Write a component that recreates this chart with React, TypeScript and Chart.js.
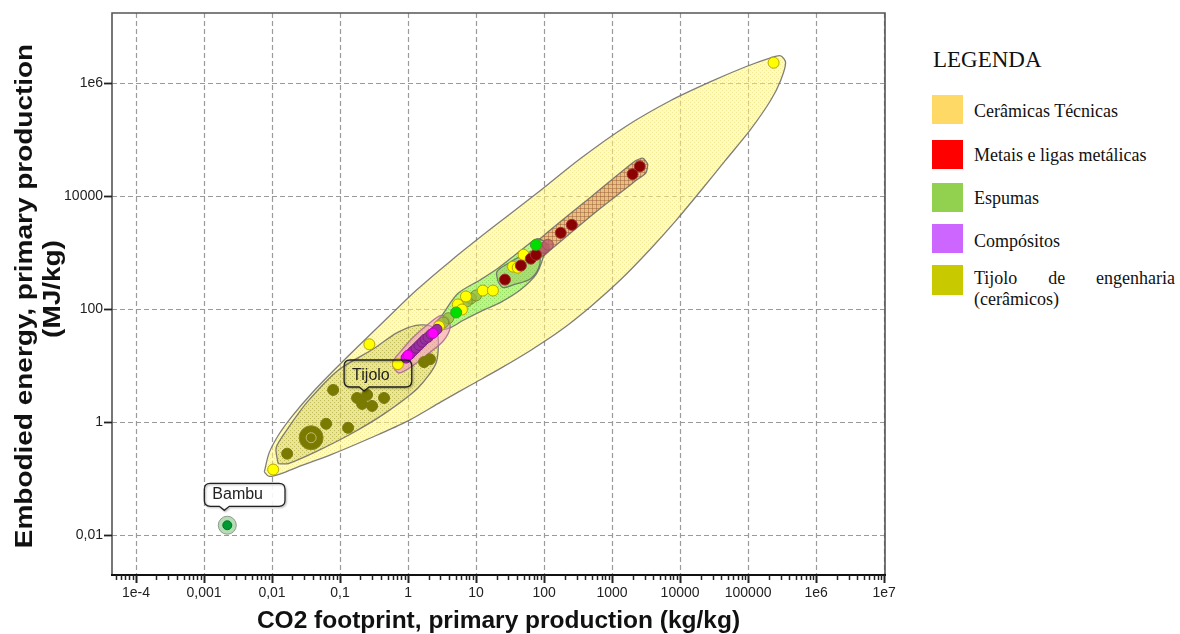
import React, { useEffect, useRef } from 'react';
import { Chart, registerables } from 'chart.js';

Chart.register(...registerables);

// ---------- axes ----------
const xTickValues = [1e-4, 1e-3, 1e-2, 1e-1, 1, 10, 100, 1000, 1e4, 1e5, 1e6, 1e7];
const xTickLabels = ['1e-4', '0,001', '0,01', '0,1', '1', '10', '100', '1000', '10000', '100000', '1e6', '1e7'];
const yTickValues = [0.01, 1, 100, 1e4, 1e6];
const yTickLabels = ['0,01', '1', '100', '10000', '1e6'];
const xMin = 4.44e-5;
const xMax = 1.03e7;
const yMin = 1.95e-3;
const yMax = 1.706e7;
const xTitle = 'CO2 footprint, primary production (kg/kg)';
const yTitle = ['Embodied energy, primary production', '(MJ/kg)'];

// ---------- envelopes (x = kg/kg, y = MJ/kg) ----------
const hullCeramicas: [number, number][] = [
  [0.0077, 0.13], [0.0091, 0.285], [0.0128, 0.615], [0.0205, 1.33], [0.0376, 3.11], [0.0792, 7.9],
  [0.185, 21.7], [0.475, 65], [1.31, 210], [4.28, 709], [16.5, 2590], [75.8, 10700], [347, 46000],
  [1590, 1.68e5], [7280, 4.83e5], [2.81e4, 1.04e6], [9.2e4, 1.91e6], [2.14e5, 2.75e6], [3.0e5, 2.99e6],
  [3.56e5, 2.25e6], [3.0e5, 1.085e6], [2.14e5, 4.83e5], [1.09e5, 1.49e5], [4.67e4, 4.25e4],
  [2.0e4, 1.21e4], [8620, 3585], [3700, 1153], [1342, 328], [487, 110], [176, 41.6], [64, 18.5],
  [23.2, 8.9], [8.4, 4.48], [3.05, 2.25], [1, 1.04], [0.286, 0.523], [0.074, 0.263], [0.0269, 0.168],
  [0.01365, 0.1216], [0.0091, 0.108],
];
const hullTijolo: [number, number][] = [
  [0.0123, 0.182], [0.0115, 0.35], [0.0173, 0.78], [0.034, 2.34], [0.094, 8.2], [0.32, 20],
  [0.67, 37], [1.31, 51], [2.18, 49], [2.76, 32.6], [2.58, 10.9], [1.4, 3.97], [0.444, 1.38],
  [0.146, 0.615], [0.0477, 0.31], [0.0173, 0.182],
];
const hullMetais: [number, number][] = [
  [64, 834], [71, 1356], [106, 2120], [487, 9480], [2150, 40700], [2830, 46000], [3340, 36000],
  [3130, 25100], [2300, 18900], [577, 5160], [135, 1200], [90, 800],
];
const hullEspumas: [number, number][] = [
  [2.41, 55], [3.05, 73], [5.4, 186], [11.8, 330], [21, 520], [38.5, 920], [58, 1360], [81, 1730],
  [106, 1410], [96, 770], [76, 400], [45.6, 219], [23, 130], [11.8, 90], [6.4, 62], [4.3, 47], [3.05, 43],
];
const hullEspumasInner: [number, number][] = [
  [21, 303], [20.3, 454], [29.4, 628], [50.5, 904], [78, 1063], [87, 628], [64, 342], [36, 268], [24.8, 237],
];
const hullCompositos: [number, number][] = [
  [0.6, 9.3], [0.74, 7.3], [1.1, 9.3], [2.03, 16.4], [3.27, 26.6], [4.14, 45], [3.87, 68],
  [3.05, 76], [2.03, 55], [1.18, 31], [0.74, 16.4], [0.6, 11.8],
];

// ---------- materials ----------
const ceramicasPts: [number, number][] = [
  [2.37e5, 2.25e6], [0.0104, 0.143], [0.27, 23.5], [0.71, 10.5], [2.85, 49], [5.4, 119], [6.2, 97],
  [7.1, 165], [12.6, 210], [17.7, 210], [35, 556], [41, 534], [50, 900],
];
const tijoloPts: [number, number][] = [
  [0.0792, 3.66], [0.178, 2.64], [0.25, 2.99], [0.211, 2.07], [0.296, 1.91], [0.444, 2.64],
  [0.0625, 0.922], [0.1315, 0.784], [0.0167, 0.273], [1.72, 11.4], [2.1, 12.8],
];
const tijoloBig: [number, number][] = [[0.0376, 0.523]];
const metaisPts: [number, number][] = [
  [2550, 33000], [2000, 24000], [256, 3050], [176, 2200], [26.6, 328], [45.6, 580], [64, 770], [76, 900],
];
const metaisFaded: [number, number][] = [[90, 1063], [99, 1200], [114, 1356]];
const espumasPts: [number, number][] = [[5.1, 86], [76, 1350]];
const espumasOlive: [number, number][] = [[3.9, 68], [3.3, 57], [8.4, 152], [10, 172], [7.3, 135]];
const compositosPts: [number, number][] = [
  [0.935, 13.4], [1.07, 15.7], [1.18, 17.8], [1.31, 20], [1.45, 22.6], [1.61, 25.6], [1.78, 28.9],
  [1.97, 31.3], [2.18, 35.4], [2.41, 38.4], [2.67, 43.3],
];
const compositosMagenta: [number, number][] = [[0.95, 14], [1.0, 15.1], [2.33, 36.8]];
const bambuPt: [number, number][] = [[0.0022, 0.0148]];

// ---------- callouts ----------
const calloutLabels = ['Tijolo', 'Bambu'];
const calloutX = [0.226, 0.00199];
const calloutY = [3.51, 0.0272];

// ---------- legend ----------
const legendLabels = ['Cerâmicas Técnicas', 'Metais e ligas metálicas', 'Espumas', 'Compósitos', 'Tijolo de engenharia (cerâmicos)'];
const legendColors = ['#ffd966', '#ff0000', '#92d050', '#cc66ff', '#c9c900'];

const toXY = (arr: [number, number][]) => arr.map(([x, y]) => ({ x, y }));
const closed = (arr: [number, number][]) => toXY([...arr, arr[0]]);

function makePattern(base: string, dot: string, cross = false) {
  const size = 4;
  const c = document.createElement('canvas');
  c.width = size;
  c.height = size;
  const g = c.getContext('2d')!;
  g.fillStyle = base;
  g.fillRect(0, 0, size, size);
  g.fillStyle = dot;
  if (cross) {
    g.fillRect(0, 0, size, 1);
    g.fillRect(0, 0, 1, size);
  } else {
    g.fillRect(0, 0, 1, 1);
    g.fillRect(2, 2, 1, 1);
  }
  return g.createPattern(c, 'repeat')!;
}

const framePlugin = {
  id: 'frameGrid',
  beforeDatasetsDraw(chart: any) {
    const { ctx, chartArea: a, scales } = chart;
    ctx.save();
    ctx.strokeStyle = '#9a9a9a';
    ctx.lineWidth = 1.2;
    ctx.setLineDash([5, 3]);
    for (const v of xTickValues) {
      const px = Math.round(scales.x.getPixelForValue(v)) + 0.5;
      ctx.beginPath();
      ctx.moveTo(px, a.top);
      ctx.lineTo(px, a.bottom);
      ctx.stroke();
    }
    for (const v of yTickValues) {
      const py = Math.round(scales.y.getPixelForValue(v)) + 0.5;
      ctx.beginPath();
      ctx.moveTo(a.left, py);
      ctx.lineTo(a.right, py);
      ctx.stroke();
    }
    ctx.restore();
  },
  afterDatasetsDraw(chart: any) {
    const { ctx, chartArea: a, scales } = chart;
    ctx.save();
    ctx.setLineDash([]);
    ctx.strokeStyle = '#555';
    ctx.lineWidth = 1.6;
    ctx.beginPath();
    ctx.moveTo(a.left, a.bottom);
    ctx.lineTo(a.left, a.top);
    ctx.lineTo(a.right, a.top);
    ctx.lineTo(a.right, a.bottom);
    ctx.stroke();
    ctx.strokeStyle = '#111';
    ctx.lineWidth = 2.2;
    ctx.beginPath();
    ctx.moveTo(a.left - 1, a.bottom);
    ctx.lineTo(a.right + 1, a.bottom);
    ctx.stroke();
    ctx.strokeStyle = '#222';
    for (let n = -5; n <= 7; n++) {
      for (let k = 1; k <= 9; k++) {
        const v = k * Math.pow(10, n);
        if (v < xMin || v > xMax * 1.0001) continue;
        const px = Math.round(scales.x.getPixelForValue(v)) + 0.5;
        ctx.lineWidth = k === 1 ? 2 : 1.5;
        ctx.beginPath();
        ctx.moveTo(px, a.bottom);
        ctx.lineTo(px, a.bottom + (k === 1 ? 8 : 5));
        ctx.stroke();
      }
    }
    ctx.lineWidth = 1.8;
    for (const v of yTickValues) {
      const py = Math.round(scales.y.getPixelForValue(v)) + 0.5;
      ctx.beginPath();
      ctx.moveTo(a.left - 8, py);
      ctx.lineTo(a.left, py);
      ctx.stroke();
    }
    ctx.font = '16px "Liberation Sans", Arial, sans-serif';
    ctx.textBaseline = 'alphabetic';
    ctx.textAlign = 'left';
    calloutLabels.forEach((label, i) => {
      const ax = scales.x.getPixelForValue(calloutX[i]);
      const ay = scales.y.getPixelForValue(calloutY[i]);
      const tw = ctx.measureText(label).width;
      const L = ax - 20;
      const R = L + tw + 30;
      const T = ay - (i === 0 ? 31 : 27);
      const B = ay - 4;
      const r = 6;
      ctx.beginPath();
      ctx.moveTo(L + r, T);
      ctx.lineTo(R - r, T);
      ctx.quadraticCurveTo(R, T, R, T + r);
      ctx.lineTo(R, B - r);
      ctx.quadraticCurveTo(R, B, R - r, B);
      ctx.lineTo(ax + 5, B);
      ctx.lineTo(ax, ay);
      ctx.lineTo(ax - 5, B);
      ctx.lineTo(L + r, B);
      ctx.quadraticCurveTo(L, B, L, B - r);
      ctx.lineTo(L, T + r);
      ctx.quadraticCurveTo(L, T, L + r, T);
      ctx.closePath();
      if (i === 1) {
        ctx.fillStyle = 'rgba(255,255,255,0.9)';
        ctx.fill();
      }
      ctx.shadowColor = 'rgba(0,0,0,0.35)';
      ctx.shadowBlur = 2;
      ctx.shadowOffsetX = 1;
      ctx.shadowOffsetY = 1;
      ctx.strokeStyle = '#222';
      ctx.lineWidth = 1.3;
      ctx.stroke();
      ctx.shadowColor = 'transparent';
      ctx.fillStyle = '#222';
      ctx.fillText(label, L + 8, B - 7);
    });
    ctx.restore();
  },
  afterDraw(chart: any) {
    const { ctx, chartArea: a } = chart;
    ctx.save();
    ctx.fillStyle = '#111';
    ctx.textAlign = 'center';
    ctx.textBaseline = 'alphabetic';
    ctx.font = 'bold 24.5px "Liberation Sans", Arial, sans-serif';
    ctx.fillText(xTitle, (a.left + a.right) / 2, 628);
    ctx.font = 'bold 24px "Liberation Sans", Arial, sans-serif';
    ctx.save();
    ctx.translate(0, 296);
    ctx.rotate(-Math.PI / 2);
    ctx.scale(1.165, 1);
    ctx.fillText(yTitle[0], 0, 32);
    ctx.restore();
    ctx.save();
    ctx.translate(0, 289);
    ctx.rotate(-Math.PI / 2);
    ctx.scale(1.165, 1);
    ctx.fillText(yTitle[1], 0, 60);
    ctx.restore();
    ctx.restore();
  },
};

const zeroPadding = (scale: any) => {
  scale.paddingLeft = 0;
  scale.paddingRight = 0;
  scale.paddingTop = 0;
  scale.paddingBottom = 0;
};

export default function App() {
  const ref = useRef<HTMLCanvasElement | null>(null);

  useEffect(() => {
    if (!ref.current) return;
    const hull = (data: [number, number][], bg: any, order: number, tension = 0.25, border = 'rgba(105,105,105,0.85)') => ({
      type: 'line' as const,
      data: closed(data),
      backgroundColor: bg,
      borderColor: border,
      borderWidth: 1.3,
      fill: 'shape',
      tension,
      pointRadius: 0,
      borderJoinStyle: 'round',
      order,
    });
    const pts = (data: [number, number][], bg: string, border: string, radius: number, order: number) => ({
      type: 'scatter' as const,
      data: toXY(data),
      backgroundColor: bg,
      borderColor: border,
      borderWidth: 1,
      pointRadius: radius,
      order,
    });

    const chart = new Chart(ref.current, {
      type: 'scatter',
      data: {
        datasets: [
          hull(hullCeramicas, makePattern('rgba(255,246,135,0.52)', 'rgba(235,220,110,0.55)'), 100, 0.3),
          hull(hullTijolo, makePattern('rgba(175,172,50,0.27)', 'rgba(145,145,30,0.42)'), 90, 0.25),
          hull(hullMetais, makePattern('rgba(200,125,80,0.45)', 'rgba(160,95,55,0.5)', true), 80, 0.2),
          hull(hullEspumas, makePattern('rgba(125,235,85,0.5)', 'rgba(95,205,65,0.45)'), 70, 0.3),
          hull(hullEspumasInner, 'rgba(130,165,70,0.32)', 65, 0.35),
          hull(hullCompositos, 'rgba(245,150,205,0.55)', 60, 0.3, 'rgba(170,110,150,0.9)'),
          pts(tijoloBig, '#7a7a00', '#8a8a20', 12, 52),
          pts(tijoloBig, 'rgba(0,0,0,0)', '#c0c070', 5, 51),
          pts(tijoloPts, '#7a7a00', '#7a7a10', 5.5, 50),
          pts(metaisFaded, 'rgba(185,95,105,0.75)', 'rgba(150,80,90,0.8)', 5.5, 45),
          pts(espumasOlive, 'rgba(150,185,60,0.75)', 'rgba(120,140,40,0.9)', 5.5, 44),
          pts(ceramicasPts, '#ffff00', '#b8a400', 5.5, 40),
          pts(metaisPts, '#8b0000', '#a03030', 5.5, 35),
          pts(espumasPts, '#00dd00', '#40a020', 5.5, 30),
          pts(compositosPts, '#9a2fa0', '#7a2080', 5, 20),
          pts(compositosMagenta, '#ff00ff', '#cc00cc', 5, 15),
          pts(bambuPt, 'rgba(150,205,150,0.7)', '#8a9a8a', 9, 12),
          pts(bambuPt, '#009933', '#007722', 4.5, 11),
        ] as any,
      },
      options: {
        responsive: false,
        animation: false,
        events: [],
        layout: { padding: { left: 0, right: 15, top: 10, bottom: 0 } },
        plugins: { legend: { display: false }, tooltip: { enabled: false } },
        scales: {
          x: {
            type: 'logarithmic',
            min: xMin,
            max: xMax,
            grid: { display: false, drawTicks: false },
            border: { display: false },
            afterBuildTicks: (scale: any) => {
              scale.ticks = xTickValues.map((v) => ({ value: v }));
            },
            afterFit: (scale: any) => {
              scale.height = 59;
              zeroPadding(scale);
            },
            ticks: {
              autoSkip: false,
              maxRotation: 0,
              padding: 10,
              color: '#222',
              font: { family: '"Liberation Sans", Arial, sans-serif', size: 14 },
              callback: (_v: any, i: number) => xTickLabels[i],
            },
          },
          y: {
            type: 'logarithmic',
            min: yMin,
            max: yMax,
            grid: { display: false, drawTicks: false },
            border: { display: false },
            afterBuildTicks: (scale: any) => {
              scale.ticks = yTickValues.map((v) => ({ value: v }));
            },
            afterFit: (scale: any) => {
              scale.width = 112;
              zeroPadding(scale);
            },
            ticks: {
              autoSkip: false,
              padding: 9,
              color: '#222',
              font: { family: '"Liberation Sans", Arial, sans-serif', size: 14 },
              callback: (_v: any, i: number) => yTickLabels[i],
            },
          },
        },
      },
      plugins: [framePlugin],
    } as any);
    return () => chart.destroy();
  }, []);

  const squareTops = [95, 140, 183, 224, 265];
  const textCenters = [111, 155, 198, 240.5, 278.5];
  const serif = '"Liberation Serif", "Times New Roman", serif';

  return (
    <div style={{ position: 'absolute', left: 0, top: 0, width: 1180, height: 634, background: '#fff', overflow: 'hidden' }}>
      <canvas ref={ref} width={900} height={634} style={{ position: 'absolute', left: 0, top: 0, width: 900, height: 634 }} />
      <div style={{ position: 'absolute', left: 933, top: 48, font: `23px ${serif}`, lineHeight: '23px', color: '#111' }}>LEGENDA</div>
      {legendLabels.map((label, i) => (
        <React.Fragment key={label}>
          <div
            style={{
              position: 'absolute',
              left: 932,
              top: squareTops[i],
              width: 31,
              height: i === 4 ? 30 : 29,
              background: legendColors[i],
            }}
          />
          <div
            style={{
              position: 'absolute',
              left: 974,
              top: textCenters[i] - (i === 4 ? 10.5 : 10),
              width: i === 4 ? 201 : 206,
              font: `18px ${serif}`,
              lineHeight: i === 4 ? '21px' : '20px',
              textAlign: i === 4 ? 'justify' : 'left',
              color: '#111',
              whiteSpace: i === 4 ? 'normal' : 'nowrap',
            }}
          >
            {label}
          </div>
        </React.Fragment>
      ))}
    </div>
  );
}
